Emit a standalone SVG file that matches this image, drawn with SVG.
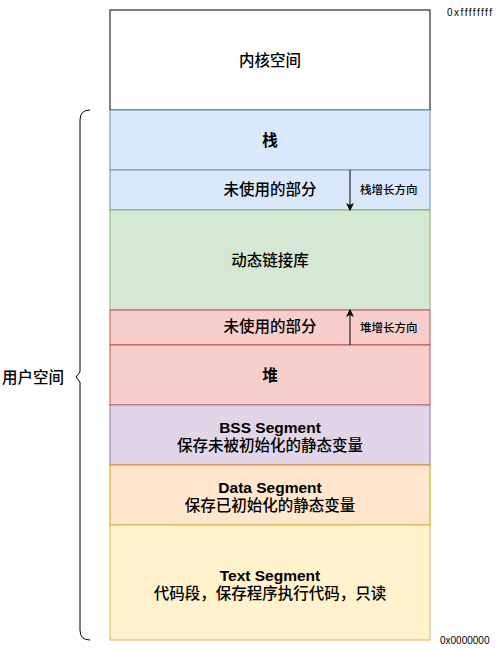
<svg xmlns="http://www.w3.org/2000/svg" width="501" height="651" viewBox="0 0 501 651">
<style>
.l{font-family:"Liberation Sans","Noto Sans CJK SC",sans-serif;font-size:15.5px;fill:#000;text-anchor:middle;dominant-baseline:central;font-weight:500}
.b{font-weight:bold}
.s{font-family:"Liberation Sans","Noto Sans CJK SC",sans-serif;font-size:11.5px;fill:#000;dominant-baseline:central;font-weight:500}
.a{font-family:"Liberation Sans",sans-serif;font-size:10px;fill:#000}
</style>
<defs>
<marker id="ah" markerWidth="8" markerHeight="8" refX="7" refY="4" orient="auto" markerUnits="userSpaceOnUse">
<path d="M0,0 L8,4 L0,8 L2,4 Z" fill="#000"/>
</marker>
</defs>
<rect width="501" height="651" fill="#fff"/>
<g id="kernel"><rect x="110" y="10" width="320" height="100" fill="#fff" stroke="#000"/><text class="l" x="270" y="60">内核空间</text></g>
<g id="stack"><rect x="110" y="110" width="320" height="60" fill="#dae8fc" stroke="#6c8ebf"/><text class="l b" x="270" y="140">栈</text></g>
<g id="unused1"><rect x="110" y="170" width="320" height="40" fill="#dae8fc" stroke="#6c8ebf"/><text class="l" x="270" y="189">未使用的部分</text></g>
<g id="dynlib"><rect x="110" y="210" width="320" height="100" fill="#d5e8d4" stroke="#82b366"/><text class="l" x="270" y="260">动态链接库</text></g>
<g id="unused2"><rect x="110" y="310" width="320" height="35" fill="#f8cecc" stroke="#b85450"/><text class="l" x="270" y="326">未使用的部分</text></g>
<g id="heap"><rect x="110" y="345" width="320" height="60" fill="#f8cecc" stroke="#b85450"/><text class="l b" x="270" y="375">堆</text></g>
<g id="bss"><rect x="110" y="405" width="320" height="60" fill="#e1d5e7" stroke="#9673a6"/><text class="l b" x="270" y="427">BSS Segment</text><text class="l" x="270" y="445">保存未被初始化的静态变量</text></g>
<g id="data"><rect x="110" y="465" width="320" height="60" fill="#ffe6cc" stroke="#d79b00"/><text class="l b" x="270" y="487">Data Segment</text><text class="l" x="270" y="505">保存已初始化的静态变量</text></g>
<g id="text"><rect x="110" y="525" width="320" height="115" fill="#fff2cc" stroke="#d6b656"/><text class="l b" x="270" y="575">Text Segment</text><text class="l" x="270" y="593">代码段，保存程序执行代码，只读</text></g>
<g id="userspace"><path d="M90,110 Q80,110 80,120 L80,372 L76,377 L80,382 L80,630 Q80,640 90,640" fill="none" stroke="#000"/><text class="l" x="33" y="377">用户空间</text></g>
<g id="connectors">
<line x1="350" y1="170" x2="350" y2="210" stroke="#000" marker-end="url(#ah)"/>
<line x1="350" y1="345" x2="350" y2="310" stroke="#000" marker-end="url(#ah)"/>
</g>
<text class="s" x="360" y="190">栈增长方向</text>
<text class="s" x="360" y="328">堆增长方向</text>
<text class="a" x="447" y="16" textLength="45" lengthAdjust="spacing">0xffffffff</text>
<text class="a" x="440" y="644">0x0000000</text>
</svg>
